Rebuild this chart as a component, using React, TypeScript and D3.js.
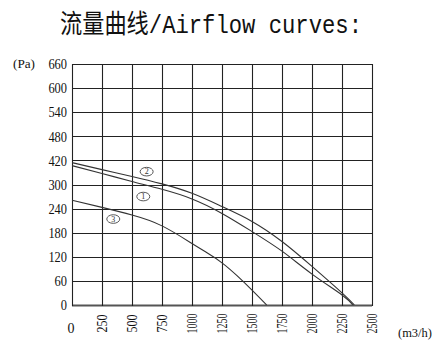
import React from "react";
import * as d3 from "d3";

const yTickLabels = ["0", "60", "120", "180", "240", "300", "420", "480", "540", "600", "660"];
const xTickValues = [0, 250, 500, 750, 1000, 1250, 1500, 1750, 2000, 2250, 2500];

// Pa values at which grid rows sit (labels are non-uniform: 300 -> 420)
const yBreaks = [0, 300, 420, 660];

const curve1Flow = [0, 250, 500, 750, 1000, 1250, 1500, 1750, 2000, 2250, 2340];
const curve1Pa = [394, 355, 315, 288, 264, 228, 183, 134, 77, 25, 0];
const curve2Flow = [0, 250, 500, 750, 1000, 1250, 1500, 1750, 2000, 2250, 2352];
const curve2Pa = [409, 374, 340, 303, 278, 245, 208, 158, 96, 30, 0];
const curve3Flow = [0, 250, 500, 750, 1000, 1125, 1250, 1375, 1500, 1622];
const curve3Pa = [261, 243, 224, 197, 153, 130, 105, 73, 37, 0];

const curveNames = ["1", "2", "3"];
const labelFlow = [594, 622, 344];
const labelPa = [270, 364, 214];

const W = 445;
const H = 340;
const left = 72;
const right = 372;
const top = 64;
const bottom = 305;

export default function App() {
  const x = d3.scaleLinear().domain([0, 2500]).range([left, right]);
  const yIdx = d3.scaleLinear().domain([0, 10]).range([bottom, top]);
  const y = d3
    .scaleLinear()
    .domain(yBreaks)
    .range([yIdx(0), yIdx(5), yIdx(6), yIdx(10)]);

  const line = d3
    .line<[number, number]>()
    .x((d) => x(d[0]))
    .y((d) => y(d[1]))
    .curve(d3.curveNatural);

  const series: [number[], number[]][] = [
    [curve1Flow, curve1Pa],
    [curve2Flow, curve2Pa],
    [curve3Flow, curve3Pa],
  ];

  const serif = "'Liberation Serif', 'Noto Sans CJK SC', serif";

  return (
    <svg
      width={W}
      height={H}
      style={{ position: "absolute", left: 0, top: 0, background: "#fff" }}
    >
      <text
        x={211}
        y={33}
        textAnchor="middle"
        fontSize={26}
        fontFamily="'Liberation Mono', 'Noto Sans CJK SC', monospace"
        textLength={302}
        lengthAdjust="spacingAndGlyphs"
        fill="#111"
      >
        流量曲线/Airflow curves:
      </text>

      {/* horizontal grid */}
      {yTickLabels.map((lab, i) => (
        <line
          key={"h" + i}
          x1={left}
          x2={right}
          y1={Math.round(yIdx(i)) + 0.5}
          y2={Math.round(yIdx(i)) + 0.5}
          stroke={i === 0 ? "#555" : "#222"}
          strokeWidth={i === 0 ? 2 : 1.1}
        />
      ))}
      {/* vertical grid */}
      {xTickValues.map((v, i) => (
        <line
          key={"v" + i}
          x1={Math.round(x(v)) + 0.5}
          x2={Math.round(x(v)) + 0.5}
          y1={top}
          y2={bottom + 1}
          stroke="#222"
          strokeWidth={1.1}
        />
      ))}

      {/* y labels */}
      {yTickLabels.map((lab, i) => (
        <text
          key={"yl" + i}
          x={67}
          y={yIdx(i)}
          dy="0.35em"
          textAnchor="end"
          fontSize={15}
          fontFamily={serif}
          textLength={lab.length * 6.2}
          lengthAdjust="spacingAndGlyphs"
          fill="#111"
        >
          {lab}
        </text>
      ))}
      <text
        x={24}
        y={64}
        dy="0.35em"
        textAnchor="middle"
        fontSize={12.5}
        fontFamily={serif}
        textLength={22}
        lengthAdjust="spacingAndGlyphs"
        fill="#111"
      >
        (Pa)
      </text>

      {/* x labels */}
      {xTickValues.map((v, i) => {
        const lab = String(v);
        if (v === 0) {
          return (
            <text
              key={"xl" + i}
              x={x(v) - 1}
              y={328}
              dy="0.35em"
              textAnchor="middle"
              fontSize={15}
              fontFamily={serif}
              textLength={7}
              lengthAdjust="spacingAndGlyphs"
              fill="#111"
            >
              {lab}
            </text>
          );
        }
        const cx = x(v);
        const cy = 323.5;
        return (
          <text
            key={"xl" + i}
            x={cx}
            y={cy}
            dy="0.35em"
            textAnchor="middle"
            fontSize={14}
            fontFamily={serif}
            textLength={lab.length === 3 ? 18 : 20}
            lengthAdjust="spacingAndGlyphs"
            transform={`rotate(-90 ${cx} ${cy})`}
            fill="#111"
          >
            {lab}
          </text>
        );
      })}
      <text
        x={415}
        y={332}
        dy="0.35em"
        textAnchor="middle"
        fontSize={13}
        fontFamily={serif}
        textLength={34}
        lengthAdjust="spacingAndGlyphs"
        fill="#111"
      >
        (m3/h)
      </text>

      {/* curves */}
      {series.map(([fx, fy], i) => (
        <path
          key={"c" + i}
          d={line(fx.map((f, j) => [f, fy[j]] as [number, number])) || ""}
          fill="none"
          stroke="#333"
          strokeWidth={1.1}
        />
      ))}

      {/* curve labels */}
      {curveNames.map((n, i) => (
        <g key={"lab" + i}>
          <ellipse
            cx={x(labelFlow[i])}
            cy={y(labelPa[i])}
            rx={6.5}
            ry={4.3}
            fill="#fff"
            stroke="#444"
            strokeWidth={0.9}
          />
          <text
            x={x(labelFlow[i])}
            y={y(labelPa[i])}
            dy="0.35em"
            textAnchor="middle"
            fontSize={8}
            fontFamily={serif}
            fill="#333"
          >
            {n}
          </text>
        </g>
      ))}
    </svg>
  );
}
